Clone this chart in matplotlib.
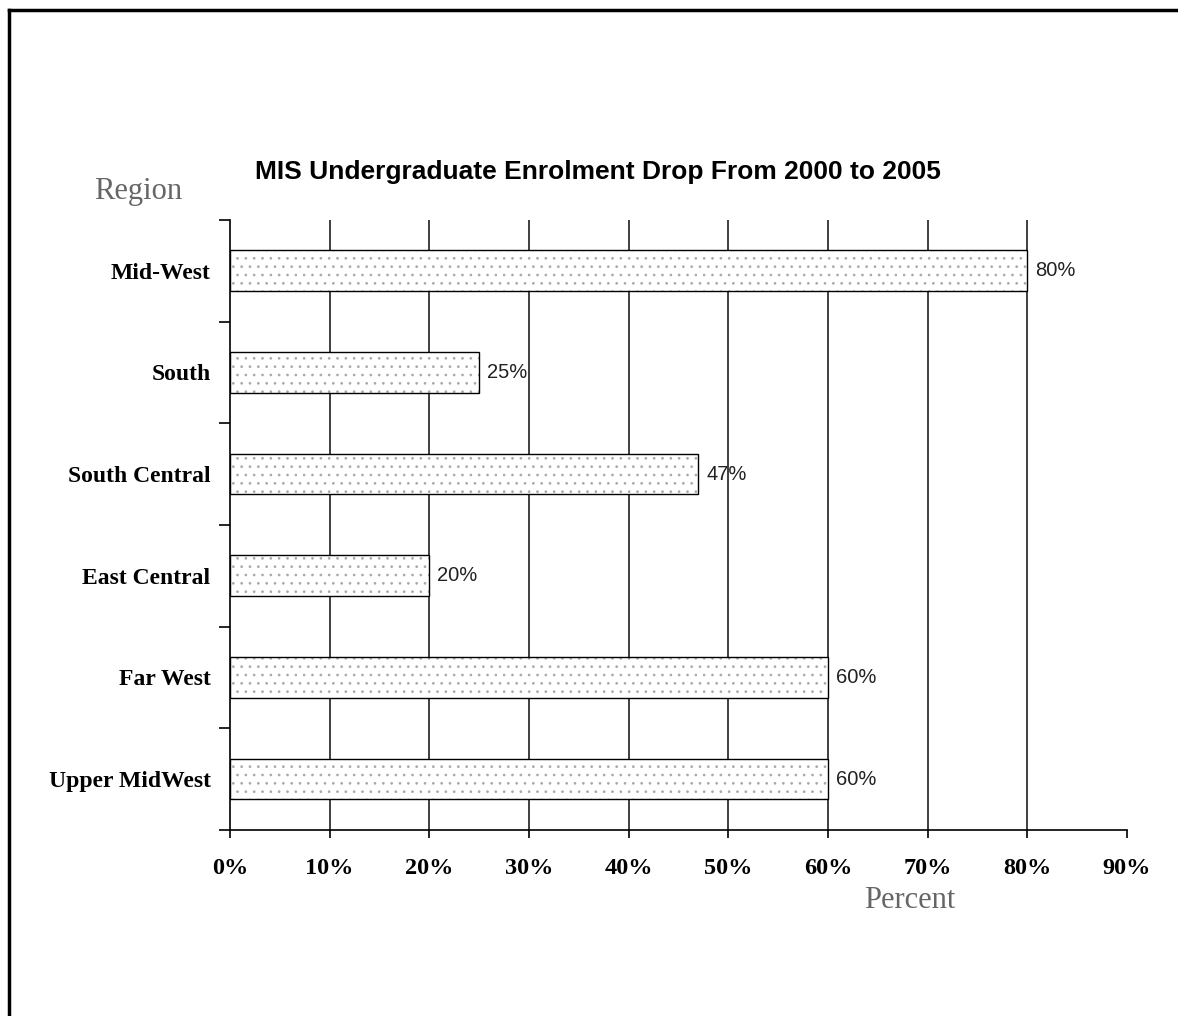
import matplotlib
matplotlib.use('Agg')
import matplotlib.pyplot as plt
import numpy as np

# data, top to bottom as shown
regions = ['Mid-West', 'South', 'South Central', 'East Central', 'Far West', 'Upper MidWest']
drop = [0.80, 0.25, 0.47, 0.20, 0.60, 0.60]
xticks = [0.0, 0.1, 0.2, 0.3, 0.4, 0.5, 0.6, 0.7, 0.8, 0.9]
xtick_labels = ['0%', '10%', '20%', '30%', '40%', '50%', '60%', '70%', '80%', '90%']

serif = 'Liberation Serif'
sans = 'Liberation Sans'

plt.rcParams['hatch.linewidth'] = 0.7

fig = plt.figure(figsize=(11.78, 10.16), dpi=100)
ax = fig.add_axes([0.1952, 0.1831, 0.7615, 0.6004])

n = len(regions)
y = np.arange(n)

# dotted fill, then the black outline on top
ax.barh(y, drop, height=0.4, color='white', edgecolor='#a8a8a8', linewidth=0,
        hatch='..', zorder=2)
ax.barh(y, drop, height=0.4, fill=False, edgecolor='black', linewidth=1.0, zorder=3)

for yi, v in zip(y, drop):
    ax.text(v + 0.008, yi, '%d%%' % round(v * 100), va='center', ha='left',
            fontfamily=sans, fontsize=14.5, color='#222222', zorder=0.5)

ax.set_ylim(n - 0.5, -0.5)
ax.set_xlim(0, 0.9)

# vertical gridlines
for gx in xticks[1:-1]:
    ax.axvline(gx, color='#303030', linewidth=1.3, zorder=1)

ax.set_yticks(np.arange(-0.5, n, 1.0))
ax.set_yticklabels([])
ax.set_yticks(y, minor=True)
ax.set_yticklabels(regions, minor=True, fontfamily=serif, fontweight='bold', fontsize=17)
ax.tick_params(axis='y', which='minor', length=0, pad=14)
ax.tick_params(axis='y', which='major', length=8, width=1.2, direction='out')

ax.set_xticks(xticks)
ax.set_xticklabels(xtick_labels, fontfamily=serif, fontweight='bold', fontsize=17.5)
ax.tick_params(axis='x', length=6, width=1.2, direction='out', pad=14)

for side in ['top', 'right']:
    ax.spines[side].set_visible(False)
for side in ['left', 'bottom']:
    ax.spines[side].set_linewidth(1.2)

fig.text(598 / 1178, 1 - 172 / 1016, 'MIS Undergraduate Enrolment Drop From 2000 to 2005',
         ha='center', va='center', fontfamily=sans, fontweight='bold', fontsize=19)
fig.text(138 / 1178, 1 - 192 / 1016, 'Region', ha='center', va='center',
         fontfamily=serif, fontsize=22, color='#666666')
fig.text(910 / 1178, 1 - 900 / 1016, 'Percent', ha='center', va='center',
         fontfamily=serif, fontsize=22, color='#666666')

# frame on top and left edges
fig.add_artist(plt.Line2D([9 / 1178, 1], [1 - 10 / 1016, 1 - 10 / 1016],
                          transform=fig.transFigure, color='black', linewidth=2.5))
fig.add_artist(plt.Line2D([9 / 1178, 9 / 1178], [0, 1 - 10 / 1016],
                          transform=fig.transFigure, color='black', linewidth=2.5))

fig.savefig('out.png', dpi=100)
